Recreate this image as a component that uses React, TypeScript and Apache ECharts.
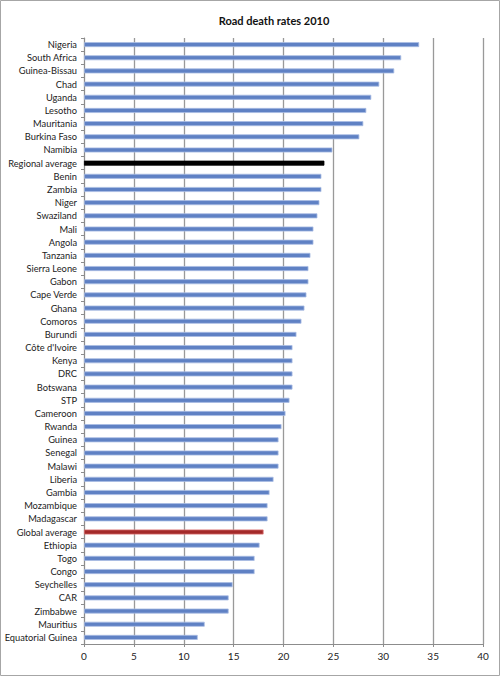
import React, { useEffect, useRef } from "react";
import * as echarts from "echarts";

const categories = [
  "Nigeria", "South Africa", "Guinea-Bissau", "Chad", "Uganda", "Lesotho", "Mauritania",
  "Burkina Faso", "Namibia", "Regional average", "Benin", "Zambia", "Niger", "Swaziland",
  "Mali", "Angola", "Tanzania", "Sierra Leone", "Gabon", "Cape Verde", "Ghana", "Comoros",
  "Burundi", "Côte d'Ivoire", "Kenya", "DRC", "Botswana", "STP", "Cameroon", "Rwanda",
  "Guinea", "Senegal", "Malawi", "Liberia", "Gambia", "Mozambique", "Madagascar",
  "Global average", "Ethiopia", "Togo", "Congo", "Seychelles", "CAR", "Zimbabwe",
  "Mauritius", "Equatorial Guinea",
];

const rates = [
  33.6, 31.8, 31.1, 29.6, 28.8, 28.3, 28.0,
  27.6, 24.9, 24.1, 23.8, 23.8, 23.6, 23.4,
  23.0, 23.0, 22.7, 22.5, 22.5, 22.3, 22.1, 21.8,
  21.3, 20.9, 20.9, 20.9, 20.9, 20.6, 20.2, 19.8,
  19.5, 19.5, 19.5, 19.0, 18.6, 18.4, 18.4,
  18.0, 17.6, 17.1, 17.1, 14.9, 14.5, 14.5,
  12.1, 11.4,
];

const xTicks = [0, 5, 10, 15, 20, 25, 30, 35, 40];
const FONT = "Lato, Roboto, sans-serif";

function barColor(name: string) {
  if (name === "Regional average") return "#000000";
  if (name === "Global average") return "#A32A2A";
  return "#5F81C4";
}
function barBorder(name: string) {
  if (name === "Regional average") return "#000000";
  if (name === "Global average") return "#D97070";
  return "#A9BCE3";
}

export default function App() {
  const ref = useRef<HTMLDivElement>(null);
  useEffect(() => {
    if (!ref.current) return;
    const chart = echarts.init(ref.current, null, { renderer: "svg" });
    chart.setOption({
      animation: false,
      backgroundColor: "#ffffff",
      title: {
        text: "Road death rates 2010",
        left: 269,
        top: 10,
        textAlign: "center",
        textStyle: { fontFamily: FONT, fontSize: 11, fontWeight: "bold", color: "#111" },
      },
      graphic: [
        {
          type: "rect",
          shape: { x: 0.5, y: 0.5, width: 499, height: 675 },
          style: { fill: "none", stroke: "#a6a6a6", lineWidth: 1 },
          silent: true,
        },
      ],
      grid: { left: 84, right: 17, top: 38, bottom: 32, containLabel: false, outerBoundsMode: "none" },
      xAxis: {
        type: "value",
        min: xTicks[0],
        max: xTicks[xTicks.length - 1],
        interval: xTicks[1] - xTicks[0],
        axisLine: { show: true, lineStyle: { color: "#8c8c8c", width: 1 } },
        axisTick: { show: true, length: 3, lineStyle: { color: "#8c8c8c" } },
        splitLine: { show: true, lineStyle: { color: "#999999", width: 1.3 } },
        axisLabel: { fontFamily: FONT, fontSize: 10, color: "#222", margin: 7 },
      },
      yAxis: {
        type: "category",
        inverse: true,
        data: categories,
        axisLine: { show: true, lineStyle: { color: "#8c8c8c", width: 1 } },
        axisTick: { show: true, length: 3, lineStyle: { color: "#8c8c8c" } },
        axisLabel: { fontFamily: FONT, fontSize: 9.3, color: "#222", margin: 7, interval: 0 },
      },
      series: [
        {
          type: "bar",
          barWidth: 5,
          data: rates.map((v, i) => ({
            value: v,
            itemStyle: {
              color: barColor(categories[i]),
              borderColor: barBorder(categories[i]),
              borderWidth: 0.8,
            },
          })),
        },
      ],
    });
    return () => chart.dispose();
  }, []);
  return (
    <div
      ref={ref}
      style={{ position: "fixed", left: 0, top: 0, width: 500, height: 676 }}
    />
  );
}
